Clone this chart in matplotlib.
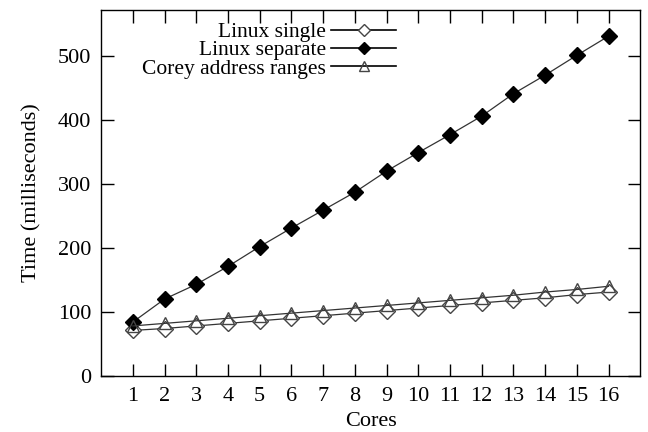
import matplotlib.pyplot as plt

plt.rcParams['font.family'] = ['Liberation Serif', 'DejaVu Serif']

cores = list(range(1, 17))
linux_single = [71, 74, 78, 82, 86, 90, 94, 98, 102, 106, 110, 114, 118, 122, 127, 131]
linux_separate = [84, 120, 143, 171, 202, 231, 259, 287, 320, 349, 377, 406, 441, 470, 501, 531]
corey_ranges = [78, 82, 86, 90, 94, 98, 102, 106, 110, 114, 118, 122, 126, 131, 135, 140]

fig = plt.figure(figsize=(6.48, 4.32), dpi=100)
ax = fig.add_axes([0.156, 0.130, 0.832, 0.847])

ax.plot(cores, linux_single, color='#333333', lw=0.9, marker='D', ms=8,
        mfc='white', mec='#444444', mew=1.0, label='Linux single')
ax.plot(cores, linux_separate, color='#333333', lw=0.9, marker='D', ms=8,
        mfc='black', mec='black', mew=1.0, label='Linux separate')
ax.plot(cores, corey_ranges, color='#333333', lw=0.9, marker='^', ms=9,
        mfc='none', mec='#444444', mew=1.0, label='Corey address ranges')

ax.set_xlim(0, 17)
ax.set_ylim(0, 572)
ax.set_xticks(cores)
ax.set_yticks([0, 100, 200, 300, 400, 500])
ax.tick_params(direction='in', length=9, width=1, labelsize=16,
               top=True, right=True)
ax.tick_params(axis='x', pad=8)
ax.tick_params(axis='y', pad=7)
for s in ax.spines.values():
    s.set_linewidth(1.0)

ax.set_xlabel('Cores', fontsize=16, labelpad=4)
ax.set_ylabel('Time (milliseconds)', fontsize=16, labelpad=12)

# legend: text left of the sample, right aligned, rows packed tight
leg = ax.legend(loc='upper right', bbox_to_anchor=(396 / 648, 1 - 22 / 432),
                bbox_transform=fig.transFigure, frameon=False,
                markerfirst=False, fontsize=15.5, handlelength=3.0,
                labelspacing=-0.08, handletextpad=0.25, borderpad=0,
                borderaxespad=0, markerscale=0.75)
for t in leg.get_texts():
    t.set_ha('right')
leg._legend_box.align = 'right'
for h in leg.get_lines():
    h.set_color('black')
    h.set_linewidth(1.2)

fig.savefig('out.png', dpi=100)
